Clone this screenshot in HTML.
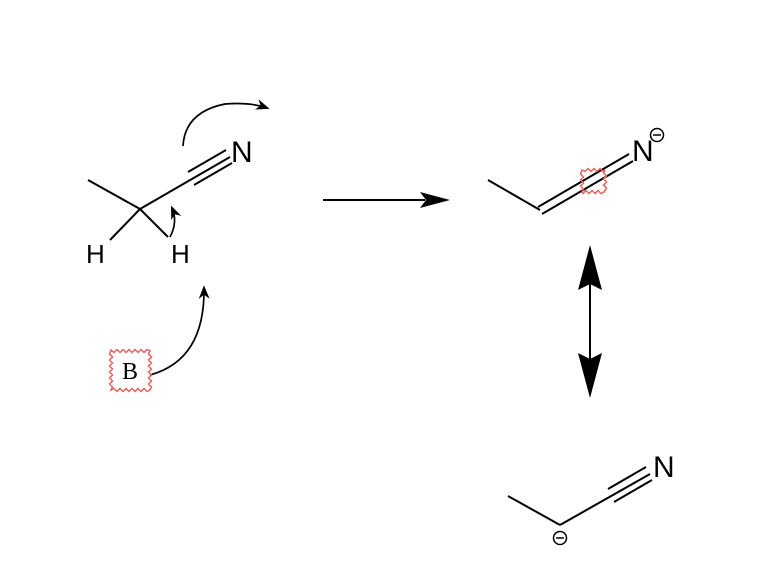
<!DOCTYPE html>
<html><head><style>body{margin:0;background:#fff}svg{display:block}</style></head>
<body>
<svg width="782" height="572" viewBox="0 0 782 572" xmlns="http://www.w3.org/2000/svg" font-family="Liberation Sans, sans-serif">
<defs>
<marker id="ah" viewBox="0 0 10 10" refX="8" refY="5" markerWidth="8" markerHeight="8" orient="auto"><path d="M0,1 L10,5 L0,9 L3,5z" fill="#000"/></marker>
</defs>
<g stroke="#000" stroke-width="2" fill="none">
<line x1="88" y1="180" x2="140" y2="209"/>
<line x1="140" y1="209" x2="230" y2="157"/>
<line x1="188" y1="172" x2="226" y2="150"/>
<line x1="194" y1="185" x2="232" y2="163"/>
<line x1="140" y1="209" x2="110" y2="240"/>
<line x1="140" y1="209" x2="168" y2="237"/>
<path d="M170,237 Q178,222 172,208" stroke-width="1.7" marker-end="url(#ah)"/>
<path d="M183,146 Q185,112 225,104 Q250,102 267,108" stroke-width="1.7" marker-end="url(#ah)"/>
<path d="M150,375 Q205,360 204,288" stroke-width="1.7" marker-end="url(#ah)"/>
<line x1="323" y1="200" x2="425" y2="200"/>
<line x1="488" y1="180" x2="540" y2="210"/>
<line x1="538" y1="207" x2="629" y2="154"/>
<line x1="542" y1="214" x2="633" y2="161"/>
<line x1="590" y1="280" x2="590" y2="365"/>
<line x1="508" y1="496" x2="560" y2="525"/>
<line x1="560" y1="525" x2="650" y2="474"/>
<line x1="608" y1="489" x2="646" y2="467"/>
<line x1="614" y1="502" x2="652" y2="480"/>
</g>
<path d="M420,192 L450,200 L420,208 L426,200z" fill="#000"/>
<path d="M590,245 L602,290 L590,284 L578,290z" fill="#000"/>
<path d="M590,398 L602,353 L590,359 L578,353z" fill="#000"/>
<g font-size="30" fill="#000">
<text x="231" y="162">N</text>
<text x="632" y="161">N</text>
<text x="653" y="477">N</text>
</g>
<g font-size="26" fill="#000">
<text x="86" y="263">H</text>
<text x="171" y="263">H</text>
</g>
<text x="130" y="379" font-family="Liberation Serif, serif" font-size="24" text-anchor="middle">B</text>
<g stroke="#000" stroke-width="1.5" fill="none">
<circle cx="657" cy="135" r="6.5"/><line x1="653" y1="135" x2="661" y2="135"/>
<circle cx="560" cy="538" r="6.5"/><line x1="556" y1="538" x2="564" y2="538"/>
</g>
<g stroke="#e8605a" stroke-width="1.5" fill="none">
<polygon points="111,350 114,352.5 117,349.5 120,352.5 123,349.5 126,352.5 129,349.5 132,352.5 135,349.5 138,352.5 141,349.5 144,352.5 147,349.5 150,351 148.5,354 151.5,357 148.5,360 151.5,363 148.5,366 151.5,369 148.5,372 151.5,375 148.5,378 151.5,381 148.5,384 151.5,387 150,390 147,391.5 144,388.5 141,391.5 138,388.5 135,391.5 132,388.5 129,391.5 126,388.5 123,391.5 120,388.5 117,391.5 114,388.5 111,390 112.5,387 109.5,384 112.5,381 109.5,378 112.5,375 109.5,372 112.5,369 109.5,366 112.5,363 109.5,360 112.5,357 109.5,354"/>
<polygon points="582,170 585,171.5 588,168.5 591,171.5 594,168.5 597,171.5 600,168.5 603,171.5 605,170 603.5,173 606.5,176 603.5,179 606.5,182 603.5,185 606.5,188 604,192 601,193.5 598,190.5 595,193.5 592,190.5 589,193.5 586,190.5 583,193.5 582,192 583.5,189 580.5,186 583.5,183 580.5,180 583.5,177 580.5,174"/>
</g>
</svg>
</body></html>
